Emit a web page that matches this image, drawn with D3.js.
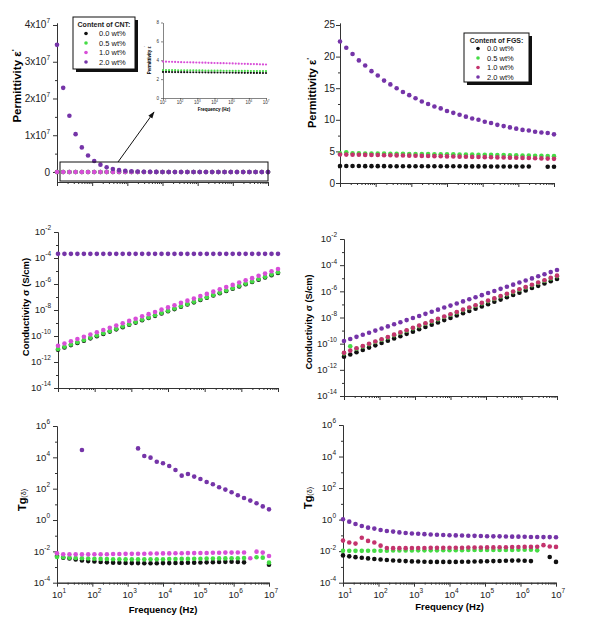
<!DOCTYPE html>
<html lang="en">
<head>
<meta charset="UTF-8" />
<script src="https://d3js.org/d3.v7.min.js"></script>
<style>
  body { margin: 0; background: #fff; }
  svg { font-family: "Liberation Sans", Arial, sans-serif; }
</style>
</head>
<body>
<div id="chart"></div>
<script>
// frequency grid (Hz), shared by every panel
var freq = [10, 15.0, 22.5, 33.8, 50.8, 76.3, 114.5, 171.9, 258.1, 387.5, 581.7, 873.3, 1311, 1968, 2955, 4437, 6661,
  10000, 15013, 22539, 33838, 50802, 76270, 114500, 171910, 258090, 387470, 581710, 873330, 1311100, 1968400,
  2955200, 4436700, 6660800, 10000000];

var contents = ["0.0 wt%", "0.5 wt%", "1.0 wt%", "2.0 wt%"];

// permittivity, CNT (plain values)
var epsCnt00 = [2.76,2.76,2.76,2.75,2.75,2.75,2.74,2.74,2.74,2.73,2.73,2.73,2.72,2.72,2.72,2.71,2.71,2.71,2.70,2.70,2.70,2.69,2.69,2.69,2.68,2.68,2.68,2.67,2.67,2.67,2.66,2.66,2.66,2.65,2.65];
var epsCnt05 = [2.96,2.96,2.95,2.95,2.95,2.94,2.94,2.94,2.93,2.93,2.93,2.92,2.92,2.92,2.91,2.91,2.91,2.90,2.90,2.90,2.89,2.89,2.89,2.88,2.88,2.88,2.87,2.87,2.87,2.86,2.86,2.86,2.85,2.85,2.85];
var epsCnt10 = [3.86,3.85,3.84,3.83,3.82,3.81,3.80,3.79,3.79,3.78,3.77,3.76,3.75,3.74,3.74,3.73,3.72,3.71,3.70,3.69,3.69,3.68,3.67,3.66,3.65,3.64,3.63,3.62,3.61,3.60,3.59,3.58,3.57,3.56,3.55];
var epsCnt20 = [3.46e7,2.29e7,1.53e7,1.03e7,6.7e6,4.5e6,3.0e6,2.0e6,1.3e6,8.0e5,5.0e5,3.5e5,2.0e5,1.2e5,8.0e4,5.0e4,3.0e4,2.0e4,1.2e4,8.0e3,5.0e3,3.0e3,2.0e3,1.2e3,800,500,300,200,150,100,80,60,40,30,25];

// permittivity, FGS
var epsFgs00 = [2.68,2.68,2.68,2.68,2.67,2.67,2.67,2.67,2.66,2.66,2.66,2.66,2.65,2.65,2.65,2.65,2.64,2.64,2.64,2.64,2.63,2.63,2.63,2.63,2.62,2.62,2.62,2.62,2.61,2.61,2.61,null,null,2.58,2.56];
var epsFgs05 = [4.68,4.85,4.70,4.68,4.67,4.66,4.65,4.64,4.63,4.62,4.61,4.60,4.59,4.58,4.57,4.56,4.55,4.54,4.53,4.52,4.50,4.49,4.48,4.46,4.45,4.43,4.42,4.40,4.38,4.36,4.34,4.32,4.30,4.28,4.25];
var epsFgs10 = [4.50,4.49,4.48,4.46,4.45,4.43,4.42,4.40,4.38,4.37,4.35,4.33,4.31,4.29,4.27,4.25,4.23,4.21,4.19,4.17,4.15,4.13,4.11,4.09,4.07,4.05,4.03,4.01,3.99,3.97,3.95,3.92,3.89,3.86,3.82];
var epsFgs20 = [22.4,21.4,20.4,19.4,18.6,17.7,17.0,16.2,15.6,15.0,14.4,13.9,13.4,12.9,12.5,12.1,11.8,11.4,11.1,10.8,10.5,10.2,10.0,9.7,9.5,9.2,9.0,8.8,8.6,8.4,8.3,8.1,8.0,7.9,7.7];

// conductivity, log10(S/cm)
var sigCnt00 = [-11.05,-10.88,-10.70,-10.53,-10.36,-10.18,-10.01,-9.84,-9.66,-9.49,-9.32,-9.14,-8.97,-8.79,-8.62,-8.45,-8.27,-8.10,-7.93,-7.75,-7.58,-7.41,-7.23,-7.06,-6.89,-6.71,-6.54,-6.37,-6.19,-6.02,-5.85,-5.67,-5.50,-5.32,-5.15];
var sigCnt05 = [-11.00,-10.83,-10.65,-10.48,-10.31,-10.13,-9.96,-9.79,-9.61,-9.44,-9.27,-9.09,-8.92,-8.74,-8.57,-8.40,-8.22,-8.05,-7.88,-7.70,-7.53,-7.36,-7.18,-7.01,-6.84,-6.66,-6.49,-6.32,-6.14,-5.97,-5.80,-5.62,-5.45,-5.27,-5.10];
var sigCnt10 = [-10.75,-10.58,-10.40,-10.23,-10.06,-9.88,-9.71,-9.54,-9.36,-9.19,-9.02,-8.84,-8.67,-8.49,-8.32,-8.15,-7.97,-7.80,-7.63,-7.45,-7.28,-7.11,-6.93,-6.76,-6.59,-6.41,-6.24,-6.07,-5.89,-5.72,-5.55,-5.37,-5.20,-5.02,-4.85];
var sigCnt20 = [-3.68,-3.68,-3.68,-3.68,-3.68,-3.68,-3.68,-3.68,-3.68,-3.68,-3.68,-3.68,-3.68,-3.68,-3.68,-3.68,-3.68,-3.68,-3.68,-3.68,-3.68,-3.68,-3.68,-3.68,-3.68,-3.68,-3.68,-3.68,-3.68,-3.68,-3.68,-3.68,-3.68,-3.68,-3.68];

var sigFgs00 = [-11.00,-10.83,-10.65,-10.48,-10.30,-10.13,-9.95,-9.78,-9.60,-9.43,-9.25,-9.08,-8.90,-8.73,-8.55,-8.38,-8.20,-8.03,-7.85,-7.68,-7.50,-7.33,-7.15,-6.98,-6.80,-6.63,-6.45,-6.28,-6.10,-5.93,-5.75,-5.58,-5.40,-5.23,-5.05];
var sigFgs05 = [-10.74,-10.20,-10.39,-10.22,-10.05,-9.87,-9.70,-9.53,-9.35,-9.18,-9.01,-8.83,-8.66,-8.48,-8.31,-8.14,-7.96,-7.79,-7.62,-7.44,-7.27,-7.10,-6.92,-6.75,-6.58,-6.40,-6.23,-6.06,-5.88,-5.71,-5.54,-5.36,-5.19,-5.01,-4.84];
var sigFgs10 = [-10.70,-10.53,-10.35,-10.18,-10.01,-9.83,-9.66,-9.49,-9.31,-9.14,-8.97,-8.79,-8.62,-8.44,-8.27,-8.10,-7.92,-7.75,-7.58,-7.40,-7.23,-7.06,-6.88,-6.71,-6.54,-6.36,-6.19,-6.02,-5.84,-5.67,-5.50,-5.32,-5.15,-4.97,-4.80];
var sigFgs20 = [-9.80,-9.64,-9.48,-9.32,-9.16,-9.00,-8.84,-8.68,-8.52,-8.36,-8.20,-8.04,-7.88,-7.72,-7.56,-7.40,-7.24,-7.09,-6.93,-6.77,-6.61,-6.45,-6.29,-6.13,-5.97,-5.81,-5.65,-5.49,-5.33,-5.17,-5.01,-4.85,-4.69,-4.53,-4.37];

// loss tangent, log10
var tanCnt00 = [-2.30,-2.40,-2.46,-2.52,-2.58,-2.62,-2.65,-2.68,-2.70,-2.72,-2.73,-2.74,-2.75,-2.75,-2.76,-2.76,-2.76,-2.75,-2.75,-2.74,-2.74,-2.73,-2.72,-2.71,-2.70,-2.69,-2.68,-2.67,-2.66,-2.68,-2.70,null,null,null,-2.85];
var tanCnt05 = [-2.36,-2.38,-2.40,-2.42,-2.44,-2.46,-2.47,-2.48,-2.49,-2.50,-2.50,-2.51,-2.51,-2.51,-2.51,-2.50,-2.50,-2.50,-2.49,-2.49,-2.48,-2.48,-2.47,-2.47,-2.46,-2.46,-2.45,-2.45,-2.44,-2.44,-2.43,null,-2.38,-2.40,-2.72];
var tanCnt10 = [-2.12,-2.18,-2.19,-2.19,-2.19,-2.19,-2.18,-2.18,-2.18,-2.17,-2.17,-2.16,-2.16,-2.15,-2.15,-2.14,-2.14,-2.13,-2.13,-2.12,-2.12,-2.11,-2.11,-2.10,-2.10,-2.09,-2.09,-2.08,-2.08,-2.07,-2.07,-2.44,-2.02,-2.08,-2.30];
var tanCnt20 = [null,null,null,null,4.47,null,null,null,null,null,null,null,null,4.57,4.09,3.98,3.72,3.62,3.45,3.19,2.83,2.94,2.77,2.62,2.43,2.28,2.09,1.94,1.77,1.58,1.41,1.24,1.07,0.87,0.68];

var tanFgs00 = [-2.27,-2.33,-2.38,-2.42,-2.46,-2.50,-2.53,-2.56,-2.59,-2.61,-2.63,-2.65,-2.66,-2.67,-2.68,-2.68,-2.68,-2.68,-2.68,-2.67,-2.67,-2.66,-2.65,-2.64,-2.63,-2.62,-2.61,-2.60,-2.59,-2.61,-2.63,null,null,-2.37,-2.68];
var tanFgs05 = [-1.98,-1.98,-1.98,-1.98,-1.97,-1.97,-1.97,-1.97,-1.96,-1.96,-1.96,-1.96,-1.95,-1.95,-1.95,-1.95,-1.94,-1.94,-1.94,-1.94,-1.93,-1.93,-1.93,-1.93,-1.92,-1.92,-1.92,-1.92,-1.91,-1.91,-1.91,-1.95,null,null,null];
var tanFgs10 = [-1.33,-1.45,-1.52,-1.15,-1.35,-1.45,-1.65,-1.80,-1.81,-1.81,-1.81,-1.80,-1.80,-1.80,-1.79,-1.79,-1.79,-1.78,-1.78,-1.78,-1.77,-1.77,-1.77,-1.76,-1.76,-1.75,-1.75,-1.74,-1.74,-1.73,-1.73,-1.72,-1.62,-1.70,-1.73];
var tanFgs20 = [0.02,-0.13,-0.28,-0.40,-0.51,-0.57,-0.66,-0.72,-0.76,-0.81,-0.85,-0.88,-0.90,-0.92,-0.94,-0.96,-0.98,-0.99,-1.00,-1.01,-1.02,-1.03,-1.04,-1.05,-1.06,-1.06,-1.07,-1.08,-1.08,-1.09,-1.10,-1.10,-1.11,-1.11,-1.12];

var colCnt = ["#111111", "#45dc45", "#d84ed8", "#7534a8"];
var colFgs = ["#111111", "#45dc45", "#c4336d", "#7534a8"];

var svg = d3.select("#chart").append("svg")
  .attr("width", 600)
  .attr("height", 619);

// "10" with a superscript exponent
function pow10(sel, exp, supSize) {
  sel.append("tspan").text("10");
  sel.append("tspan").attr("dy", -supSize * 0.75).attr("font-size", supSize).text(exp);
}

function minorLogTicks(lo, hi) {
  var out = [];
  for (var d = lo; d < hi; d++)
    for (var k = 2; k <= 9; k++) out.push(k * Math.pow(10, d));
  return out;
}

function styleAxis(g) {
  g.selectAll("path,line").attr("stroke", "#333").attr("stroke-width", 1);
  g.selectAll("text").remove();
}

// one panel: p.x0/x1, p.y (scale), p.xAxisY
function drawPanel(p) {
  var x = d3.scaleLog().domain([10, 1e7]).range([p.x0, p.x1]);
  var y = p.y;
  var g = svg.append("g");

  // x axis, majors + minors
  g.append("g").attr("transform", "translate(0," + p.xAxisY + ")")
    .call(d3.axisBottom(x).tickValues([1e1,1e2,1e3,1e4,1e5,1e6,1e7]).tickSize(4).tickSizeOuter(0))
    .call(styleAxis);
  g.append("g").attr("transform", "translate(0," + p.xAxisY + ")")
    .call(d3.axisBottom(x).tickValues(minorLogTicks(1, 7)).tickSize(2).tickSizeOuter(0))
    .call(styleAxis);

  if (p.xLabels) {
    [1,2,3,4,5,6,7].forEach(function(e) {
      var t = g.append("text").attr("x", x(Math.pow(10, e)) + 2).attr("y", p.xAxisY + 15)
        .attr("text-anchor", "middle").attr("font-size", 9.5).attr("fill", "#222");
      pow10(t, e, 6.5);
    });
    g.append("text").attr("x", (p.x0 + p.x1) / 2).attr("y", p.xLabelY)
      .attr("text-anchor", "middle").attr("font-size", 9.5).attr("font-weight", "bold")
      .text("Frequency (Hz)");
  }

  // y axis
  var ax = g.append("g").attr("transform", "translate(" + p.x0 + ",0)");
  ax.append("g").call(d3.axisLeft(y).tickValues(p.yMajor).tickSize(4).tickSizeOuter(0)).call(styleAxis);
  ax.append("g").call(d3.axisLeft(y).tickValues(p.yMinor).tickSize(2).tickSizeOuter(0)).call(styleAxis);
  p.yMajor.forEach(function(v, i) {
    var t = g.append("text").attr("x", p.x0 - p.labelGap).attr("y", y(v)).attr("dy", "0.35em")
      .attr("text-anchor", "end").attr("font-size", p.tickSize).attr("fill", "#222");
    p.yLabel(t, v, i);
  });

  // y title
  var yt = g.append("text")
    .attr("transform", "translate(" + p.titleX + "," + p.titleY + ") rotate(-90)")
    .attr("text-anchor", "middle").attr("font-weight", "bold").attr("font-size", p.titleSize);
  p.title(yt);

  // points, drawn 0.0 first so 2.0 ends up on top
  p.series.forEach(function(s, k) {
    var pts = s.map(function(v, i) { return [freq[i], v]; }).filter(function(d) { return d[1] !== null; });
    g.append("g").selectAll("circle").data(pts).enter().append("circle")
      .attr("cx", function(d) { return x(d[0]); })
      .attr("cy", function(d) { return y(p.logData ? Math.pow(10, d[1]) : d[1]); })
      .attr("r", p.r || 2.3)
      .attr("fill", p.colors[k]);
  });
  return x;
}

function logLabel(t, v) { pow10(t, Math.round(Math.log10(v)), 6.5); }
function decades(lo, hi, step) { var o = []; for (var e = lo; e <= hi; e += step) o.push(Math.pow(10, e)); return o; }

function epsTitle(t) {
  t.append("tspan").text("Permittivity \u03b5");
  t.append("tspan").attr("dy", -4).attr("font-size", "0.7em").text("'");
}
function sigTitle(t) { t.text("Conductivity \u03c3 (S/cm)"); }
function tanTitle(t) {
  t.append("tspan").text("Tg");
  t.append("tspan").attr("font-weight", "normal").attr("font-size", "0.65em").text("(\u03b4)");
}

// ---- top left: CNT permittivity ----
drawPanel({
  x0: 57, x1: 268, xAxisY: 182,
  y: d3.scaleLinear().domain([-0.272e7, 4.054e7]).range([182, 23]),
  yMajor: [0, 1e7, 2e7, 3e7, 4e7], yMinor: [0.5e7, 1.5e7, 2.5e7, 3.5e7],
  labelGap: 7, tickSize: 10,
  yLabel: function(t, v, i) {
    if (i === 0) t.text("0");
    else { t.append("tspan").text(i + "x10"); t.append("tspan").attr("dy", -5).attr("font-size", 6.5).text("7"); }
  },
  titleX: 21, titleY: 86, titleSize: 11.5, title: epsTitle,
  series: [epsCnt00, epsCnt05, epsCnt10, epsCnt20], colors: colCnt
});

// zoom box and arrow to inset
svg.append("rect").attr("x", 60).attr("y", 162).attr("width", 208).attr("height", 19)
  .attr("fill", "none").attr("stroke", "#111").attr("stroke-width", 1);
svg.append("defs").append("marker").attr("id", "ah").attr("viewBox", "0 0 10 10")
  .attr("refX", 9).attr("refY", 5).attr("markerWidth", 7).attr("markerHeight", 7).attr("orient", "auto")
  .append("path").attr("d", "M0,1.5 L10,5 L0,8.5 Z").attr("fill", "#111");
svg.append("line").attr("x1", 118).attr("y1", 162).attr("x2", 154).attr("y2", 112)
  .attr("stroke", "#111").attr("stroke-width", 1).attr("marker-end", "url(#ah)");

// inset: low-value CNT permittivity
(function() {
  var x = d3.scaleLog().domain([10, 1e7]).range([163, 266]);
  var y = d3.scaleLinear().domain([0, 8]).range([98, 22.5]);
  var g = svg.append("g");
  g.append("g").attr("transform", "translate(0,98)")
    .call(d3.axisBottom(x).tickValues(decades(1, 7, 1)).tickSize(2).tickSizeOuter(0)).call(styleAxis);
  g.append("g").attr("transform", "translate(163,0)")
    .call(d3.axisLeft(y).tickValues([0, 2, 4, 6, 8]).tickSize(2).tickSizeOuter(0)).call(styleAxis);
  g.selectAll("path,line").attr("stroke-width", 0.6);
  [1,2,3,4,5,6,7].forEach(function(e) {
    var t = g.append("text").attr("x", x(Math.pow(10, e))).attr("y", 104)
      .attr("text-anchor", "middle").attr("font-size", 4.5).attr("fill", "#333");
    pow10(t, e, 3);
  });
  [0, 2, 4, 6, 8].forEach(function(v) {
    g.append("text").attr("x", 159).attr("y", y(v)).attr("dy", "0.35em").attr("text-anchor", "end")
      .attr("font-size", 4.5).attr("fill", "#333").text(v);
  });
  g.append("text").attr("x", 214).attr("y", 111).attr("text-anchor", "middle")
    .attr("font-size", 4.5).attr("font-weight", "bold").text("Frequency (Hz)");
  var yt = g.append("text").attr("transform", "translate(151,60) rotate(-90)")
    .attr("text-anchor", "middle").attr("font-size", 4.5).attr("font-weight", "bold");
  epsTitle(yt);
  [epsCnt00, epsCnt05, epsCnt10].forEach(function(s, k) {
    g.append("g").selectAll("circle").data(s).enter().append("circle")
      .attr("cx", function(d, i) { return x(freq[i]); })
      .attr("cy", function(d) { return y(d); })
      .attr("r", 1.1).attr("fill", colCnt[k]);
  });
})();

// ---- top right: FGS permittivity ----
drawPanel({
  x0: 340, x1: 554, xAxisY: 183,
  y: d3.scaleLinear().domain([0, 25.3]).range([183, 23.1]),
  yMajor: [0, 5, 10, 15, 20, 25], yMinor: [2.5, 7.5, 12.5, 17.5, 22.5],
  labelGap: 5, tickSize: 10,
  yLabel: function(t, v) { t.text(v); },
  titleX: 316, titleY: 93, titleSize: 11, title: epsTitle,
  series: [epsFgs00, epsFgs05, epsFgs10, epsFgs20], colors: colFgs
});

// ---- middle: conductivity ----
drawPanel({
  x0: 58, x1: 278, xAxisY: 388,
  y: d3.scaleLog().domain([1e-14, 1e-2]).range([388, 232]),
  yMajor: decades(-14, -2, 2), yMinor: decades(-13, -3, 2),
  labelGap: 7, tickSize: 9.5, yLabel: logLabel, logData: true,
  titleX: 29, titleY: 307, titleSize: 9.5, title: sigTitle,
  series: [sigCnt00, sigCnt05, sigCnt10, sigCnt20], colors: colCnt
});
drawPanel({
  x0: 344, x1: 557, xAxisY: 396,
  y: d3.scaleLog().domain([1e-14, 1e-2]).range([396, 239]),
  yMajor: decades(-14, -2, 2), yMinor: decades(-13, -3, 2),
  labelGap: 7, tickSize: 9.5, yLabel: logLabel, logData: true,
  titleX: 312, titleY: 322, titleSize: 9.2, title: sigTitle,
  series: [sigFgs00, sigFgs05, sigFgs10, sigFgs20], colors: colFgs
});

// ---- bottom: loss tangent ----
drawPanel({
  x0: 57, x1: 269, xAxisY: 582.7, xLabels: true, xLabelY: 613,
  y: d3.scaleLog().domain([1e-4, 1e6]).range([582.7, 426]),
  yMajor: decades(-4, 6, 2), yMinor: decades(-3, 5, 2),
  labelGap: 7, tickSize: 9.5, yLabel: logLabel, logData: true,
  titleX: 26, titleY: 500, titleSize: 11, title: tanTitle,
  series: [tanCnt00, tanCnt05, tanCnt10, tanCnt20], colors: colCnt
});
drawPanel({
  x0: 343, x1: 556, xAxisY: 582.7, xLabels: true, xLabelY: 610,
  y: d3.scaleLog().domain([1e-4, 1e6]).range([582.7, 425]),
  yMajor: decades(-4, 6, 2), yMinor: decades(-3, 5, 2),
  labelGap: 7, tickSize: 9.5, yLabel: logLabel, logData: true,
  titleX: 312, titleY: 498, titleSize: 11, title: tanTitle,
  series: [tanFgs00, tanFgs05, tanFgs10, tanFgs20], colors: colFgs
});

// legends with drop shadow
function legend(x0, y0, w, h, title, colors, rows, mx, tx) {
  var g = svg.append("g");
  g.append("rect").attr("x", x0 + 3).attr("y", y0 + 3).attr("width", w).attr("height", h).attr("fill", "#111");
  g.append("rect").attr("x", x0).attr("y", y0).attr("width", w).attr("height", h)
    .attr("fill", "#fff").attr("stroke", "#111").attr("stroke-width", 1);
  g.append("text").attr("x", x0 + w / 2).attr("y", y0 + 10).attr("text-anchor", "middle")
    .attr("font-size", 7).attr("font-weight", "bold").attr("fill", "#222").text(title);
  contents.forEach(function(c, i) {
    g.append("circle").attr("cx", mx).attr("cy", rows[i]).attr("r", 1.8).attr("fill", colors[i]);
    g.append("text").attr("x", tx).attr("y", rows[i]).attr("dy", "0.35em")
      .attr("font-size", 7.5).attr("fill", "#111").text(c);
  });
}
legend(73, 17, 62, 52, "Content of CNT:", colCnt, [33.5, 43, 52.5, 62], 86, 99);
legend(464, 33, 65, 49, "Content of FGS:", colFgs, [48.5, 58, 67.5, 77], 478, 487);
</script>
</body>
</html>
